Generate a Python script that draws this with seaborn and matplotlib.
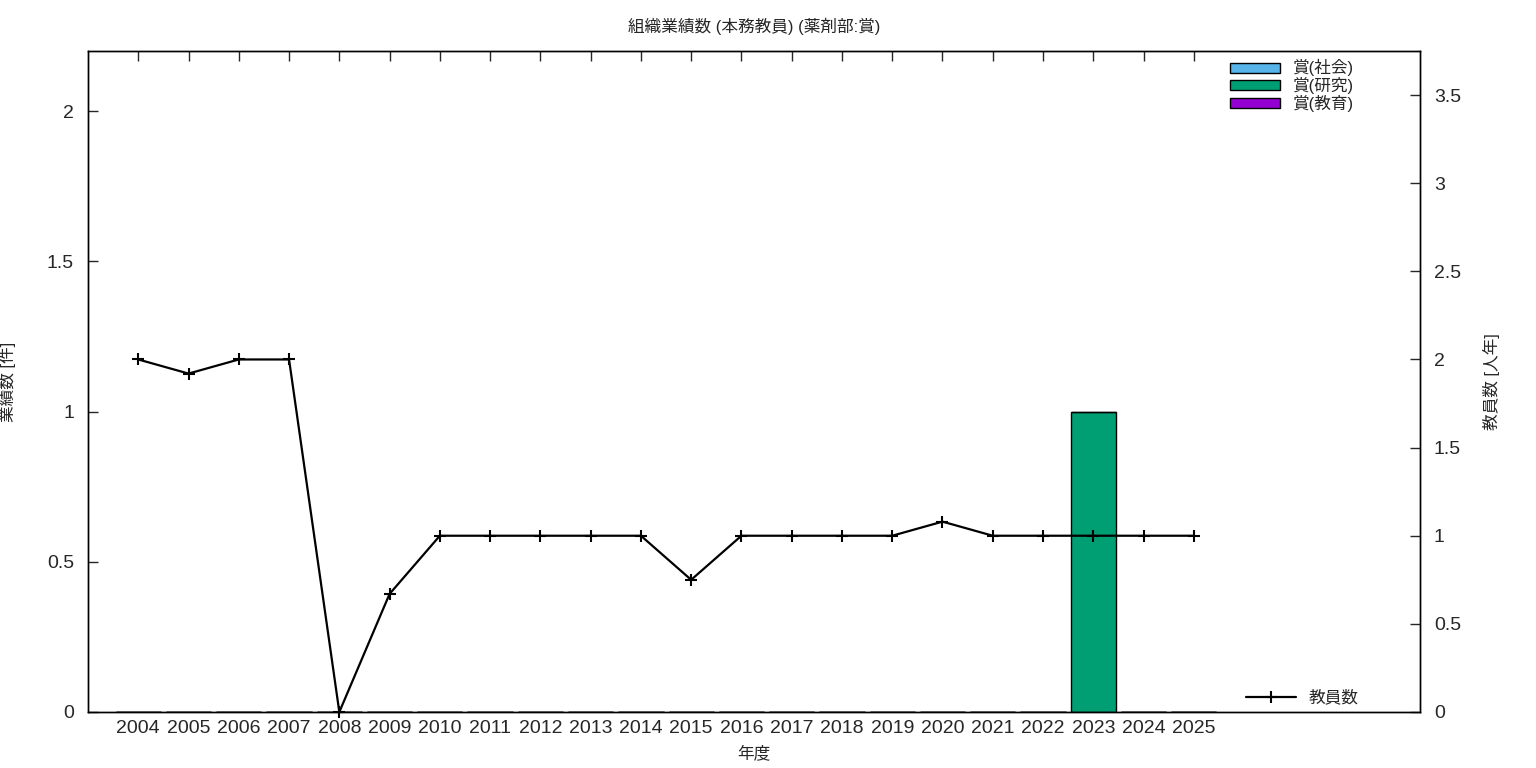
import numpy as np
import pandas as pd
import seaborn as sns
import matplotlib
matplotlib.use('Agg')
import matplotlib.pyplot as plt

# data
years = list(range(2004, 2026))
award_social = [0] * 22
award_research = [0] * 19 + [1, 0, 0]
award_education = [0] * 22
staff = [2, 1.92, 2, 2, 0, 0.67, 1, 1, 1, 1, 1, 0.75, 1, 1, 1, 1, 1.08, 1, 1, 1, 1, 1]

sns.set_style('white')
plt.rcParams['font.family'] = ['Liberation Sans', 'Noto Sans CJK JP', 'DejaVu Sans']

fig = plt.figure(figsize=(15.36, 7.68), dpi=100)
ax = fig.add_axes([88 / 1536, 56 / 768, 1332 / 1536, 661 / 768])
ax2 = ax.twinx()

# stacked bars
bottom = np.zeros(len(years))
for vals, col, lab in [(award_social, '#56b4e9', '賞(社会)'),
                       (award_research, '#009e73', '賞(研究)'),
                       (award_education, '#9400d3', '賞(教育)')]:
    ax.bar(years, vals, width=0.9, bottom=bottom, color=col,
           edgecolor='black', linewidth=1, label=lab, zorder=2)
    bottom += np.array(vals)

# staff line on right axis
df = pd.DataFrame({'year': years, 'staff': staff})
sns.lineplot(data=df, x='year', y='staff', ax=ax2, color='black', linewidth=1.6,
             marker='+', markersize=9, markeredgewidth=1.5,
             markeredgecolor='black', label='教員数', clip_on=False, zorder=3)

ax.set_xlim(2003, 2029.5)
ax.set_ylim(0, 2.2)
ax2.set_ylim(0, 3.75)
ax.set_xticks(years)
ax.set_xticklabels([str(y) for y in years])
ax.set_yticks([0, 0.5, 1, 1.5, 2])
ax.set_yticklabels(['0', '0.5', '1', '1.5', '2'])
ax2.set_yticks([0, 0.5, 1, 1.5, 2, 2.5, 3, 3.5])
ax2.set_yticklabels(['0', '0.5', '1', '1.5', '2', '2.5', '3', '3.5'])

ax.tick_params(axis='x', direction='in', length=7, width=1, top=True,
               labelsize=14, pad=6)
ax.tick_params(axis='y', direction='in', length=7, width=1, left=True,
               right=False, labelsize=14, pad=10)
ax2.tick_params(axis='y', direction='in', length=7, width=1, right=True,
                left=False, labelsize=14, pad=10)
for a in (ax, ax2):
    for s in a.spines.values():
        s.set_color('black')
        s.set_linewidth(1)

ax.set_xlabel('年度', fontsize=12, labelpad=6)
ax.set_ylabel('業績数 [件]', fontsize=12, labelpad=22)
ax2.set_ylabel('教員数 [人年]', fontsize=12, labelpad=16, rotation=90)
ax2.yaxis.set_label_position('right')
ax.set_title('組織業績数 (本務教員) (薬剤部:賞)', fontsize=12, pad=14)

ax.legend(loc='upper right', frameon=False, fontsize=12, handlelength=3.0,
          handleheight=0.55, labelspacing=0.05, borderaxespad=0.1,
          bbox_to_anchor=(0.957, 1.0))
ax2.legend(loc='lower right', frameon=False, fontsize=12, handlelength=3.0,
           borderaxespad=0.0, bbox_to_anchor=(0.959, 0.0))

fig.savefig('out.png', dpi=100)
